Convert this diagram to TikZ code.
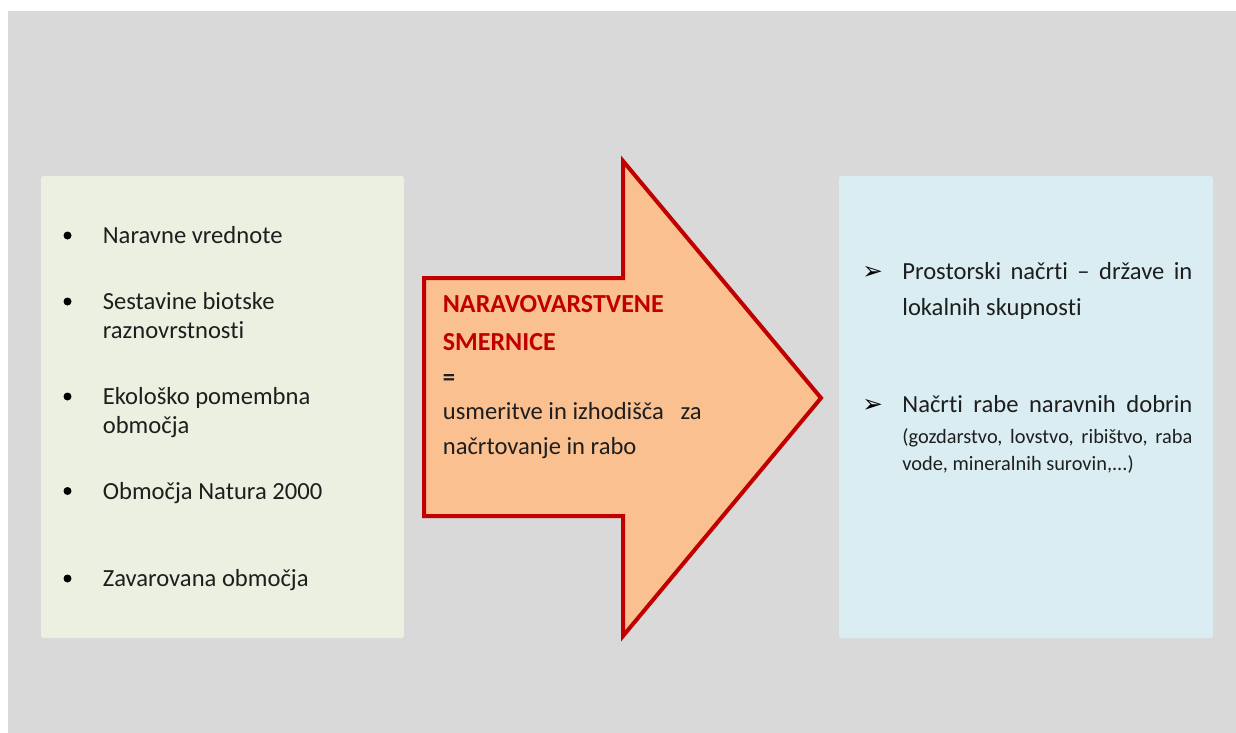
\documentclass[tikz,border=0pt]{standalone}
\usepackage{fontspec}
\setmainfont{Carlito}[Ligatures=NoCommon]
\newfontfamily\symfont{DejaVu Sans}

\definecolor{bggray}{HTML}{D9D9D9}
\definecolor{natgreen}{HTML}{EBF0E0}
\definecolor{planblue}{HTML}{DAEDF3}
\definecolor{arrowfill}{HTML}{FAC090}
\definecolor{arrowred}{HTML}{C00000}
\definecolor{inkgray}{HTML}{1E1E1E}

\newcommand{\mainsize}{\fontsize{14}{16}\selectfont}
\newcommand{\titlesize}{\fontsize{14.8}{17}\selectfont}
\newcommand{\smallsize}{\fontsize{11.6}{14}\selectfont}

\tikzset{
  item/.style={anchor=base west, inner sep=0pt, text=inkgray, font=\mainsize},
  smallitem/.style={item, font=\smallsize},
  titleitem/.style={item, text=arrowred, font=\titlesize\bfseries},
  dotbullet/.style={circle, fill=black, inner sep=0pt, minimum size=1.6mm},
  tipbullet/.style={anchor=base west, inner sep=0pt, font=\symfont\bfseries\fontsize{14}{16}\selectfont}
}

\begin{document}
\begin{tikzpicture}[x=0.2mm,y=-0.2mm]
  \useasboundingbox (0,0) rectangle (1236,733);

  % background and panels
  \fill[bggray] (8,11) rectangle (1236,733);
  \fill[natgreen, rounded corners=0.5mm] (41,176) rectangle (404,638);
  \fill[planblue, rounded corners=0.5mm] (839,176) rectangle (1213,638);

  % the big arrow
  \draw[arrowred, fill=arrowfill, line width=0.8mm, line join=miter]
    (424,278) -- (623,278) -- (623,161) -- (821,398) -- (623,636)
    -- (623,516) -- (424,516) -- cycle;

  % left list
  \node[dotbullet] (b1) at (67.5,235.5) {};
  \node[dotbullet] (b2) at (67.5,301.5) {};
  \node[dotbullet] (b3) at (67.5,396.5) {};
  \node[dotbullet] (b4) at (67.5,491) {};
  \node[dotbullet] (b5) at (67.5,578.5) {};
  \node[item] (val) at (102.5,243.3) {Naravne vrednote};
  \node[item] (bio1) at (102.5,309.3) {Sestavine biotske};
  \node[item] (bio2) at (102.5,338.3) {raznovrstnosti};
  \node[item] (eco1) at (102.5,404.3) {Ekološko pomembna};
  \node[item] (eco2) at (102.5,433.3) {območja};
  \node[item] (natura) at (102.5,499.3) {Območja Natura 2000};
  \node[item] (prot) at (102.5,586) {Zavarovana območja};

  % text in the arrow
  \node[titleitem] (title1) at (442.5,312.7) {NARAVOVARSTVENE};
  \node[titleitem] (title2) at (442.5,350.7) {SMERNICE};
  \node[item, font=\mainsize\bfseries] (eqsign) at (442.5,385.5) {=};
  \node[item] (desc1) at (442.5,419.3) {usmeritve in izhodišča\ \ \ za};
  \node[item] (desc2) at (442.5,454) {načrtovanje in rabo};

  % right list
  \node[tipbullet] (t1) at (862,279.3) {➢};
  \node[tipbullet] (t2) at (862,412.7) {➢};
  \node[item] (spat1) at (902,279.3) {\makebox[58mm][s]{Prostorski načrti – države in}};
  \node[item] (spat2) at (902,315) {lokalnih skupnosti};
  \node[item] (use1) at (902,412.7) {\makebox[58mm][s]{Načrti rabe naravnih dobrin}};
  \node[smallitem] (use2) at (902,443.3) {\makebox[58mm][s]{(gozdarstvo, lovstvo, ribištvo, raba}};
  \node[smallitem] (use3) at (902,470.7) {vode, mineralnih surovin,...)};
\end{tikzpicture}
\end{document}
